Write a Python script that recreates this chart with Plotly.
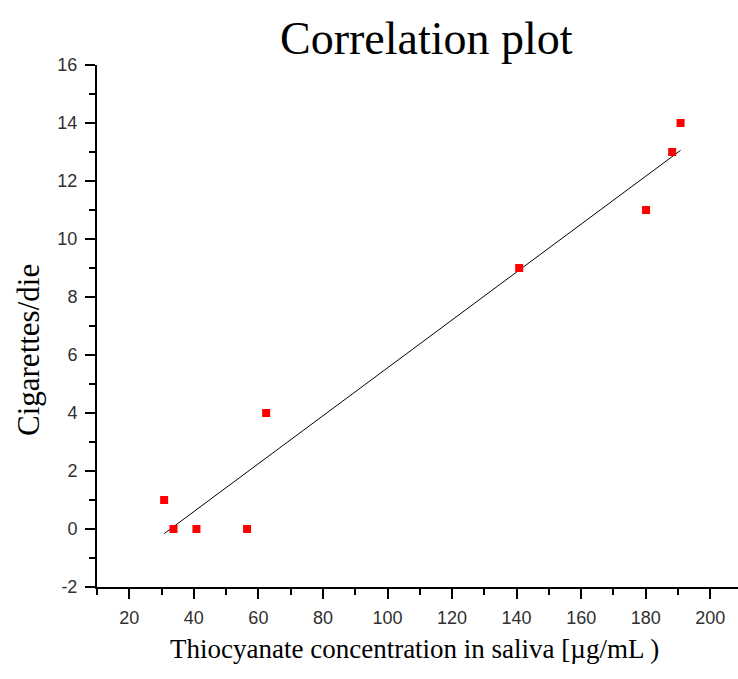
import numpy as np
import plotly.graph_objects as go

# Saliva thiocyanate (µg/mL) vs cigarettes smoked per day
thiocyanate = [30.8, 33.7, 40.8, 56.5, 62.4, 140.8, 180.1, 188.2, 190.8]
cigarettes = [1, 0, 0, 0, 4, 9, 11, 13, 14]

x_ticks = [20, 40, 60, 80, 100, 120, 140, 160, 180, 200]
y_ticks = [-2, 0, 2, 4, 6, 8, 10, 12, 14, 16]
y_tick_text = ["-2", "0", "2", "4", "6", "8", "10", "12", "14", "16"]

W, H = 738, 679
L, R, T, B = 97, 0, 65, 92

# least-squares line over the measured range
slope, intercept = np.polyfit(thiocyanate, cigarettes, 1)
fit_x = np.array([min(thiocyanate), max(thiocyanate)])
fit_y = slope * fit_x + intercept

fig = go.Figure()
fig.add_trace(go.Scatter(
    x=fit_x, y=fit_y, mode="lines",
    line=dict(color="black", width=1), showlegend=False, hoverinfo="skip"))
fig.add_trace(go.Scatter(
    x=thiocyanate, y=cigarettes, mode="markers",
    marker=dict(symbol="square", size=8, color="#ff0000", line=dict(width=0)),
    showlegend=False))

tick_font = dict(family="Liberation Sans, Arial, sans-serif", size=18, color="#303030")
serif = "Liberation Serif, Times New Roman, serif"

x_span = (W - L - R) / 3.2278
fig.update_xaxes(
    range=[10, 10 + x_span], tickvals=x_ticks, ticks="outside", ticklen=10,
    tickwidth=2, tickcolor="black", showline=True, linecolor="black", linewidth=2,
    showgrid=False, zeroline=False, tickfont=tick_font, ticklabelstandoff=3,
    minor=dict(dtick=10, tick0=0, ticks="outside", ticklen=6, tickwidth=2,
               tickcolor="black", showgrid=False))
fig.update_yaxes(
    range=[-2, 16], tickvals=y_ticks, ticktext=y_tick_text, ticks="outside", ticklen=10,
    tickwidth=2, tickcolor="black", showline=True, linecolor="black", linewidth=2,
    showgrid=False, zeroline=False, tickfont=tick_font, ticklabelstandoff=4,
    minor=dict(dtick=1, tick0=0, ticks="outside", ticklen=6, tickwidth=2,
               tickcolor="black", showgrid=False))

fig.update_layout(
    width=W, height=H, margin=dict(l=L, r=R, t=T, b=B),
    paper_bgcolor="white", plot_bgcolor="white",
    annotations=[
        dict(text="Correlation plot", xref="paper", yref="paper",
             x=(426 - L) / (W - L - R), y=1 + (T - 38) / (H - T - B),
             xanchor="center", yanchor="middle", showarrow=False,
             font=dict(family=serif, size=46, color="black")),
        dict(text="Thiocyanate concentration in saliva [µg/mL )", xref="paper", yref="paper",
             x=(414 - L) / (W - L - R), y=-(649 - (H - B)) / (H - T - B),
             xanchor="center", yanchor="middle", showarrow=False,
             font=dict(family=serif, size=27, color="black")),
        dict(text="Cigarettes/die", xref="paper", yref="paper",
             x=-(L - 28) / (W - L - R), y=1 - (350 - T) / (H - T - B),
             xanchor="center", yanchor="middle", showarrow=False, textangle=-90,
             font=dict(family=serif, size=31, color="black")),
    ],
)

fig.write_html("out.html")
